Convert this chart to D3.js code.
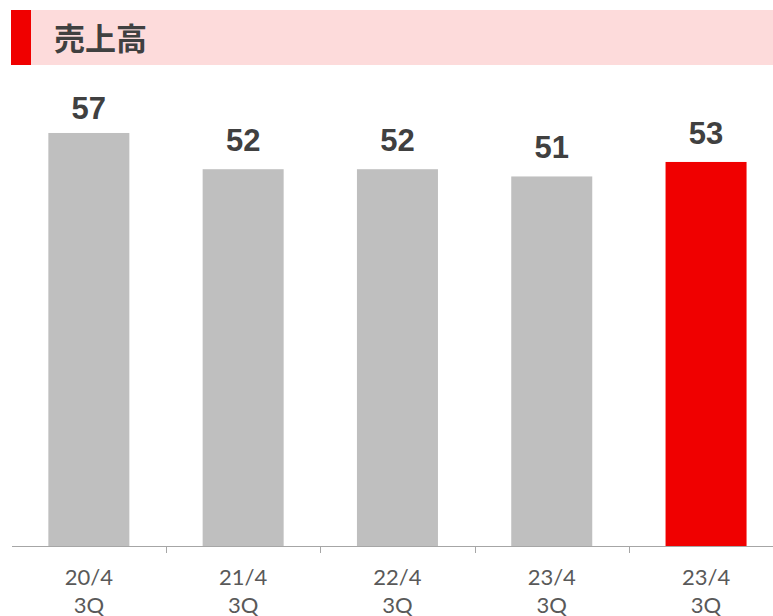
<!DOCTYPE html>
<html><head><meta charset="utf-8">
<script src="https://cdn.jsdelivr.net/npm/d3@7"></script>
<style>html,body{margin:0;padding:0;background:#fff;}svg{display:block;}</style>
</head><body>
<svg id="c" width="773" height="616"></svg>
<script>
const title = "売上高";
const categories = ["20/4\n3Q", "21/4\n3Q", "22/4\n3Q", "23/4\n3Q", "23/4\n3Q "];
const values = [57, 52, 52, 51, 53];
const highlight = [false, false, false, false, true];

const svg = d3.select("#c");
// header
svg.append("rect").attr("x", 11).attr("y", 10).attr("width", 762).attr("height", 55).attr("fill", "#fddbdb");
svg.append("rect").attr("x", 11).attr("y", 10).attr("width", 20).attr("height", 55).attr("fill", "#f00000");
svg.append("text").attr("x", 54).attr("y", 50).text(title)
  .attr("font-family", "'Noto Sans CJK JP', sans-serif").attr("font-weight", "bold")
  .attr("font-size", 31).attr("fill", "#404040");

const x = d3.scaleBand().domain(d3.range(values.length)).range([11.7, 783.2]).paddingInner(0.475).paddingOuter(0.2375);
const y = d3.scaleLinear().domain([0, 60]).range([546, 546 - 60 * 7.246]);

svg.selectAll("rect.bar").data(values).join("rect").attr("class", "bar")
  .attr("x", (d, i) => x(i)).attr("width", x.bandwidth())
  .attr("y", d => y(d)).attr("height", d => y(0) - y(d))
  .attr("fill", (d, i) => highlight[i] ? "#f00000" : "#bfbfbf");

svg.selectAll("text.val").data(values).join("text").attr("class", "val")
  .attr("x", (d, i) => x(i) + x.bandwidth() / 2).attr("y", d => Math.max(y(d) - 18, 118.5))
  .attr("text-anchor", "middle").attr("font-family", "'Liberation Sans', Arial, sans-serif")
  .attr("font-weight", "bold").attr("font-size", 31).attr("fill", "#404040").text(d => d);

// axis
svg.append("line").attr("x1", 12).attr("x2", 773).attr("y1", 546.5).attr("y2", 546.5)
  .attr("stroke", "#a6a6a6").attr("stroke-width", 1.2);
const step = x.step();
const gapHalf = step * x.paddingInner() / 2;
const ticks = d3.range(values.length - 1).map(i => x(i) + x.bandwidth() + gapHalf);
svg.selectAll("line.tick").data(ticks).join("line").attr("class", "tick")
  .attr("x1", d => Math.round(d) + 0.5).attr("x2", d => Math.round(d) + 0.5)
  .attr("y1", 546).attr("y2", 553).attr("stroke", "#a6a6a6").attr("stroke-width", 1);

const lab = svg.selectAll("text.cat").data(categories).join("text").attr("class", "cat")
  .attr("text-anchor", "middle").attr("font-family", "Lato, 'Open Sans', sans-serif")
  .attr("font-size", 22).attr("fill", "#595959");
lab.each(function(d, i) {
  const t = d3.select(this);
  d.trim().split("\n").forEach((s, k) => {
    t.append("tspan").attr("x", x(i) + x.bandwidth() / 2).attr("y", 585 + k * 27.5).text(s);
  });
});
</script>
</body></html>
